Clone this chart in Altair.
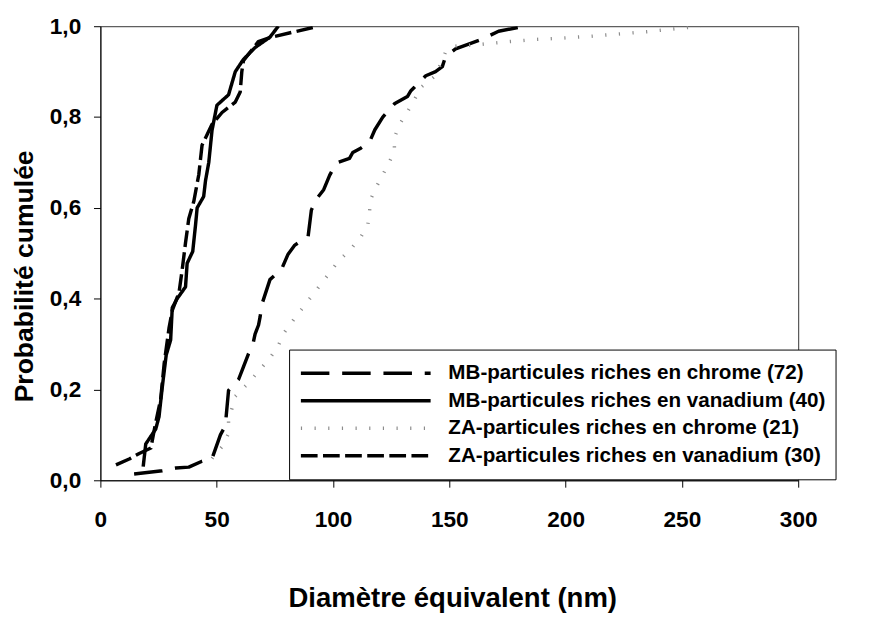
import altair as alt
import pandas as pd

series_names = [
    "MB-particules riches en chrome (72)",
    "MB-particules riches en vanadium (40)",
    "ZA-particules riches en chrome (21)",
    "ZA-particules riches en vanadium (30)",
]

mb_cr_x = [14.5, 26.6, 32.4, 38.0, 43.7, 48.0, 49.4, 51.6, 53.7, 55.1, 59.4, 61.5, 63.7, 65.8, 66.5,
           68.0, 68.7, 69.4, 72.9, 77.9, 80.7, 83.6, 89.3, 90.7, 93.0, 96.0, 98.6, 101.4, 107.1,
           108.5, 112.1, 115.7, 118.0, 121.4, 126.4, 132.0, 133.5, 134.9, 139.9, 144.1, 147.0,
           148.4, 152.7, 164.8, 171.2, 182.6]
mb_cr_y = [0.014, 0.021, 0.027, 0.029, 0.042, 0.048, 0.068, 0.100, 0.120, 0.198, 0.222, 0.250,
           0.279, 0.305, 0.322, 0.342, 0.361, 0.387, 0.442, 0.465, 0.498, 0.518, 0.537, 0.595,
           0.620, 0.640, 0.672, 0.699, 0.709, 0.722, 0.732, 0.745, 0.772, 0.800, 0.829, 0.845,
           0.858, 0.865, 0.891, 0.900, 0.911, 0.933, 0.950, 0.973, 0.989, 1.000]

mb_v_x = [18.4, 19.5, 23.8, 25.2, 26.6, 28.3, 30.2, 30.9, 33.0, 36.6, 37.3, 39.7, 40.9, 41.6, 44.4,
          45.2, 46.6, 48.0, 50.1, 55.1, 58.0, 61.5, 66.5, 72.9, 76.5]
mb_v_y = [0.030, 0.080, 0.113, 0.140, 0.205, 0.276, 0.309, 0.380, 0.400, 0.426, 0.478, 0.504,
          0.562, 0.600, 0.625, 0.660, 0.700, 0.771, 0.826, 0.849, 0.900, 0.927, 0.953, 0.976, 1.000]

za_cr_x = [48.0, 52.3, 55.1, 55.1, 56.6, 58.0, 63.0, 68.0, 73.0, 76.5, 78.6, 84.0, 90.0, 96.0,
           102.1, 107.8, 112.1, 115.0, 115.7, 116.1, 118.5, 121.4, 124.2, 126.4, 126.4, 128.5,
           131.8, 134.9, 137.7, 144.1, 148.4, 152.0, 163.4, 175.5, 187.6, 199.0, 211.1, 235.0, 258.0]
za_cr_y = [0.048, 0.074, 0.103, 0.130, 0.159, 0.185, 0.211, 0.240, 0.270, 0.296, 0.322, 0.360,
           0.400, 0.440, 0.481, 0.510, 0.537, 0.564, 0.591, 0.618, 0.645, 0.673, 0.700, 0.727,
           0.754, 0.783, 0.810, 0.837, 0.865, 0.891, 0.943, 0.956, 0.960, 0.966, 0.971, 0.974,
           0.978, 0.988, 1.000]

za_v_x = [6.7, 12.4, 16.7, 21.7, 23.5, 25.9, 27.4, 29.5, 30.9, 33.8, 35.2, 36.6, 38.0, 40.2, 41.6,
          42.3, 43.7, 48.0, 52.3, 58.0, 60.1, 60.8, 61.5, 67.9, 72.9, 93.6]
za_v_y = [0.034, 0.047, 0.059, 0.071, 0.120, 0.178, 0.256, 0.335, 0.374, 0.413, 0.465, 0.523,
          0.576, 0.615, 0.654, 0.673, 0.738, 0.784, 0.810, 0.833, 0.855, 0.900, 0.924, 0.966,
          0.975, 1.000]

x_ticks = [0, 50, 100, 150, 200, 250, 300]
y_ticks = [0.0, 0.2, 0.4, 0.6, 0.8, 1.0]

colors = ["#000000", "#000000", "#8c8c8c", "#000000"]
dashes = [[29, 13], [1, 0], [1.2, 12.7], [17, 5.5]]
widths = [3.5, 3.5, 5, 3.5]

rows = []
for name, xs, ys in zip(series_names,
                        [mb_cr_x, mb_v_x, za_cr_x, za_v_x],
                        [mb_cr_y, mb_v_y, za_cr_y, za_v_y]):
    for i, (a, b) in enumerate(zip(xs, ys)):
        rows.append({"series": name, "x": a, "y": b, "i": i})
df = pd.DataFrame(rows)

FONT = "Liberation Sans"
W, H = 710, 462

chart = alt.Chart(df).mark_line(clip=True, strokeCap="butt", strokeJoin="round").encode(
    x=alt.X("x:Q", scale=alt.Scale(domain=[0, 300], nice=False),
            title="Diamètre équivalent (nm)",
            axis=alt.Axis(values=x_ticks, grid=False, labelFlush=False, labelOverlap=False,
                          tickSize=7, labelPadding=40, labelBaseline="alphabetic",
                          labelFontSize=23, titleFontSize=28,
                          titleBaseline="alphabetic", titleX=358, titleY=128)),
    y=alt.Y("y:Q", scale=alt.Scale(domain=[0, 1], nice=False),
            title="Probabilité cumulée",
            axis=alt.Axis(values=y_ticks, grid=False, labelOverlap=False,
                          labelExpr="replace(format(datum.value, '.1f'), '.', ',')",
                          tickSize=7, labelPadding=13, labelFontSize=23, titleFontSize=27,
                          titleBaseline="alphabetic", titleAlign="center",
                          titleAngle=270, titleX=-69, titleY=254)),
    color=alt.Color("series:N", scale=alt.Scale(domain=series_names, range=colors),
                    legend=alt.Legend(title=None)),
    strokeDash=alt.StrokeDash("series:N", scale=alt.Scale(domain=series_names, range=dashes),
                              legend=alt.Legend(title=None)),
    strokeWidth=alt.StrokeWidth("series:N", scale=alt.Scale(domain=series_names, range=widths),
                                legend=alt.Legend(title=None)),
    order="i:Q",
).properties(
    width=W, height=H,
    autosize=alt.AutoSizeParams(type="none"),
    padding={"left": 94, "top": 13, "right": 70, "bottom": 160},
).configure_view(
    stroke="#333333", strokeWidth=1
).configure_axis(
    labelFont=FONT, titleFont=FONT, labelFontWeight="bold", titleFontWeight="bold",
    labelColor="black", titleColor="black", domainColor="black", tickColor="black",
    domainWidth=1, tickWidth=1
).configure_legend(
    orient="none", legendX=192, legendY=329,
    strokeColor="black", strokeWidth=1, fillColor="white", padding=10,
    symbolType="stroke", symbolSize=17424, clipHeight=28, rowPadding=0,
    labelFont=FONT, labelFontSize=21, labelFontWeight="bold", labelColor="black",
    labelLimit=0, labelOffset=16
)

chart.save("out.html", embed_options={"renderer": "svg", "actions": False})
